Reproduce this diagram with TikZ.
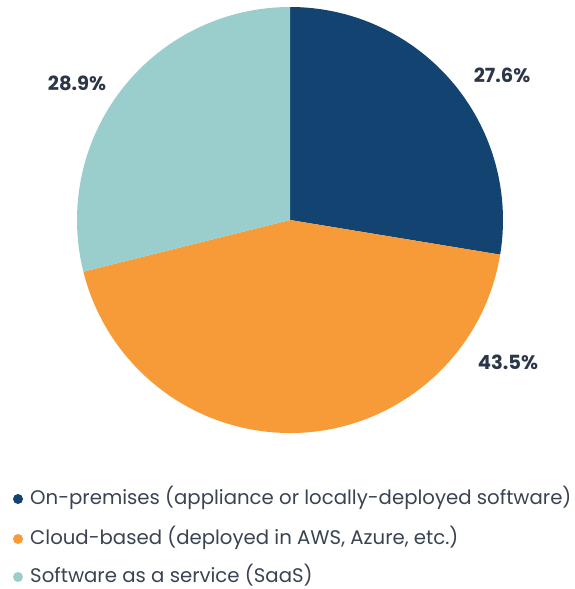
\documentclass[tikz,border=0pt]{standalone}
\usepackage{fontspec}
\setmainfont{Poppins}
\definecolor{cblue}{HTML}{124371}
\definecolor{corange}{HTML}{F79A38}
\definecolor{cteal}{HTML}{99CECD}
\definecolor{ctext}{HTML}{2B3648}
\definecolor{cleg}{HTML}{3A4352}
\begin{document}
\begin{tikzpicture}[x=1pt,y=-1pt,
  pct/.style={font=\fontsize{19.5}{23}\selectfont\bfseries, text=ctext, inner sep=0pt},
  leg/.style={font=\fontsize{19.7}{22}\selectfont, text=cleg, anchor=west, inner sep=0pt},
  dot/.style={circle, inner sep=0pt, minimum size=10pt}]
\useasboundingbox (0,0) rectangle (575,589);
\coordinate (c) at (290,220);
\def\R{213}
\fill[cblue] (c) -- ++(0,-\R) arc[start angle=-90, end angle=9.36, radius=\R] -- cycle;
\fill[corange] (c) -- ++(9.36:\R) arc[start angle=9.36, end angle=165.96, radius=\R] -- cycle;
\fill[cteal] (c) -- ++(165.96:\R) arc[start angle=165.96, end angle=270, radius=\R] -- cycle;
\node[pct] (p1) at (502,75) {27.6\%};
\node[pct] (p2) at (508,362) {43.5\%};
\node[pct] (p3) at (77,83) {28.9\%};
\node[dot, fill=cblue] (d1) at (18,499) {};
\node[dot, fill=corange] (d2) at (18,539) {};
\node[dot, fill=cteal] (d3) at (18,577) {};
\node[leg] (l1) at (30,498) {On-premises (appliance or locally-deployed software)};
\node[leg] (l2) at (30,538) {Cloud-based (deployed in AWS, Azure, etc.)};
\node[leg] (l3) at (30,575) {Software as a service (SaaS)};
\end{tikzpicture}
\end{document}
